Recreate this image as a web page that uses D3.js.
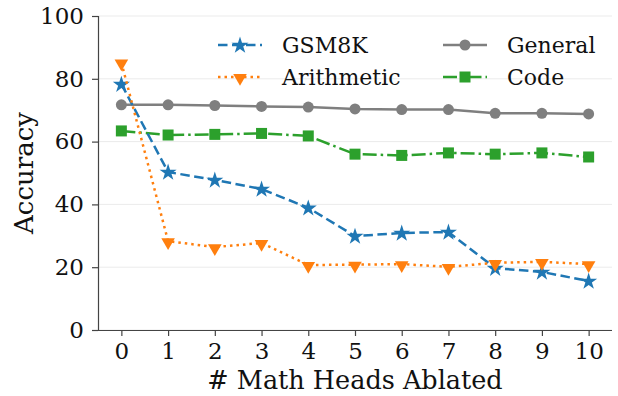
<!DOCTYPE html>
<head>
  <meta charset="utf-8">
  <script src="https://d3js.org/d3.v7.min.js"></script>
  <style>
    body { margin: 0; background: #fff; }
    text { font-family: "DejaVu Serif", serif; fill: #111; }
  </style>
</head>
<body>
<div id="chart"></div>
<script>
// values
var heads = [0, 1, 2, 3, 4, 5, 6, 7, 8, 9, 10];
var gsm8k = [78.3, 50.3, 47.8, 44.9, 38.9, 29.9, 30.9, 31.2, 19.7, 18.5, 15.6];
var arithmetic = [85.2, 28.3, 26.4, 27.7, 20.7, 20.8, 21.0, 20.1, 21.4, 21.7, 21.0];
var general = [71.7, 71.7, 71.5, 71.2, 71.0, 70.4, 70.2, 70.2, 69.0, 69.0, 68.8];
var code = [63.4, 62.1, 62.3, 62.6, 61.8, 56.0, 55.6, 56.4, 56.0, 56.4, 55.1];
var yTicks = [0, 20, 40, 60, 80, 100];

var series = [
  { name: "GSM8K", values: gsm8k, color: "#1f77b4", dash: "9.5,4.5", marker: "star" },
  { name: "Arithmetic", values: arithmetic, color: "#ff7f0e", dash: "2.5,4", marker: "tri" },
  { name: "General", values: general, color: "#7f7f7f", dash: null, marker: "circle" },
  { name: "Code", values: code, color: "#2ca02c", dash: "14,4,2.5,4", marker: "square" }
];

var width = 618, height = 396;
var margin = { left: 98, right: 6, top: 16, bottom: 66 };

var svg = d3.select("#chart").append("svg")
    .attr("width", width)
    .attr("height", height);

var x = d3.scaleLinear().domain([-0.5, 10.5]).range([margin.left, 612]);
var y = d3.scaleLinear().domain([0, 100]).range([330, margin.top]);

// gridlines
svg.append("g")
  .selectAll("line")
  .data(yTicks)
  .enter()
  .append("line")
  .attr("x1", margin.left)
  .attr("x2", 612)
  .attr("y1", function(d) { return y(d); })
  .attr("y2", function(d) { return y(d); })
  .attr("stroke", "#ebebeb")
  .attr("stroke-width", 1);

// axes
var xAxis = svg.append("g")
    .attr("transform", "translate(0,330)")
    .call(d3.axisBottom(x).tickValues(heads).tickSize(6).tickPadding(7));
var yAxis = svg.append("g")
    .attr("transform", "translate(" + margin.left + ",0)")
    .call(d3.axisLeft(y).tickValues(yTicks).tickSize(6).tickPadding(8));

[xAxis, yAxis].forEach(function(a) {
  a.select(".domain").attr("stroke", "#444").attr("stroke-width", 1.2);
  a.selectAll(".tick line").attr("stroke", "#444").attr("stroke-width", 1.2);
  a.selectAll(".tick text").style("font-size", "23px").attr("fill", "#111");
});
yAxis.select(".domain").attr("d", "M0.5,330V16");
xAxis.select(".domain").attr("d", "M" + margin.left + ",0.5H612");

// axis labels
svg.append("text")
  .attr("x", 355)
  .attr("y", 389)
  .attr("text-anchor", "middle")
  .style("font-size", "25.5px")
  .text("# Math Heads Ablated");

svg.append("text")
  .attr("transform", "translate(33,173) rotate(-90)")
  .attr("text-anchor", "middle")
  .style("font-size", "26px")
  .text("Accuracy");

// markers
function drawMarker(g, type, color, cx, cy) {
  if (type === "star") {
    g.append("path")
      .attr("d", d3.symbol().type(d3.symbolStar).size(90)())
      .attr("transform", "translate(" + cx + "," + (cy + 0.5) + ")")
      .attr("fill", color);
  } else if (type === "tri") {
    g.append("path")
      .attr("d", d3.symbol().type(d3.symbolTriangle).size(80)())
      .attr("transform", "translate(" + cx + "," + (cy + 1) + ") rotate(180)")
      .attr("fill", color);
  } else if (type === "circle") {
    g.append("circle")
      .attr("cx", cx).attr("cy", cy).attr("r", 5.5)
      .attr("fill", color);
  } else {
    g.append("rect")
      .attr("x", cx - 5.5).attr("y", cy - 5.5)
      .attr("width", 11).attr("height", 11)
      .attr("fill", color);
  }
}

var line = d3.line()
    .x(function(d, i) { return x(heads[i]); })
    .y(function(d) { return y(d); });

// draw order: general, code, gsm8k, arithmetic
[series[2], series[3], series[0], series[1]].forEach(function(s) {
  var g = svg.append("g");
  g.append("path")
    .attr("d", line(s.values))
    .attr("fill", "none")
    .attr("stroke", s.color)
    .attr("stroke-width", 2.5)
    .attr("stroke-dasharray", s.dash);
  s.values.forEach(function(v, i) {
    drawMarker(g, s.marker, s.color, x(heads[i]), y(v));
  });
});

// legend
var legendPos = [
  { s: series[0], x: 218, y: 45 },
  { s: series[1], x: 218, y: 77 },
  { s: series[2], x: 443, y: 45 },
  { s: series[3], x: 443, y: 77 }
];
legendPos.forEach(function(p) {
  var g = svg.append("g");
  g.append("line")
    .attr("x1", p.x).attr("x2", p.x + 44)
    .attr("y1", p.y).attr("y2", p.y)
    .attr("stroke", p.s.color)
    .attr("stroke-width", 2.5)
    .attr("stroke-dasharray", p.s.dash);
  drawMarker(g, p.s.marker, p.s.color, p.x + 22, p.y);
  g.append("text")
    .attr("x", p.x + 64)
    .attr("y", p.y + 8)
    .style("font-size", "22px")
    .text(p.s.name);
});
</script>
</body>
</html>
